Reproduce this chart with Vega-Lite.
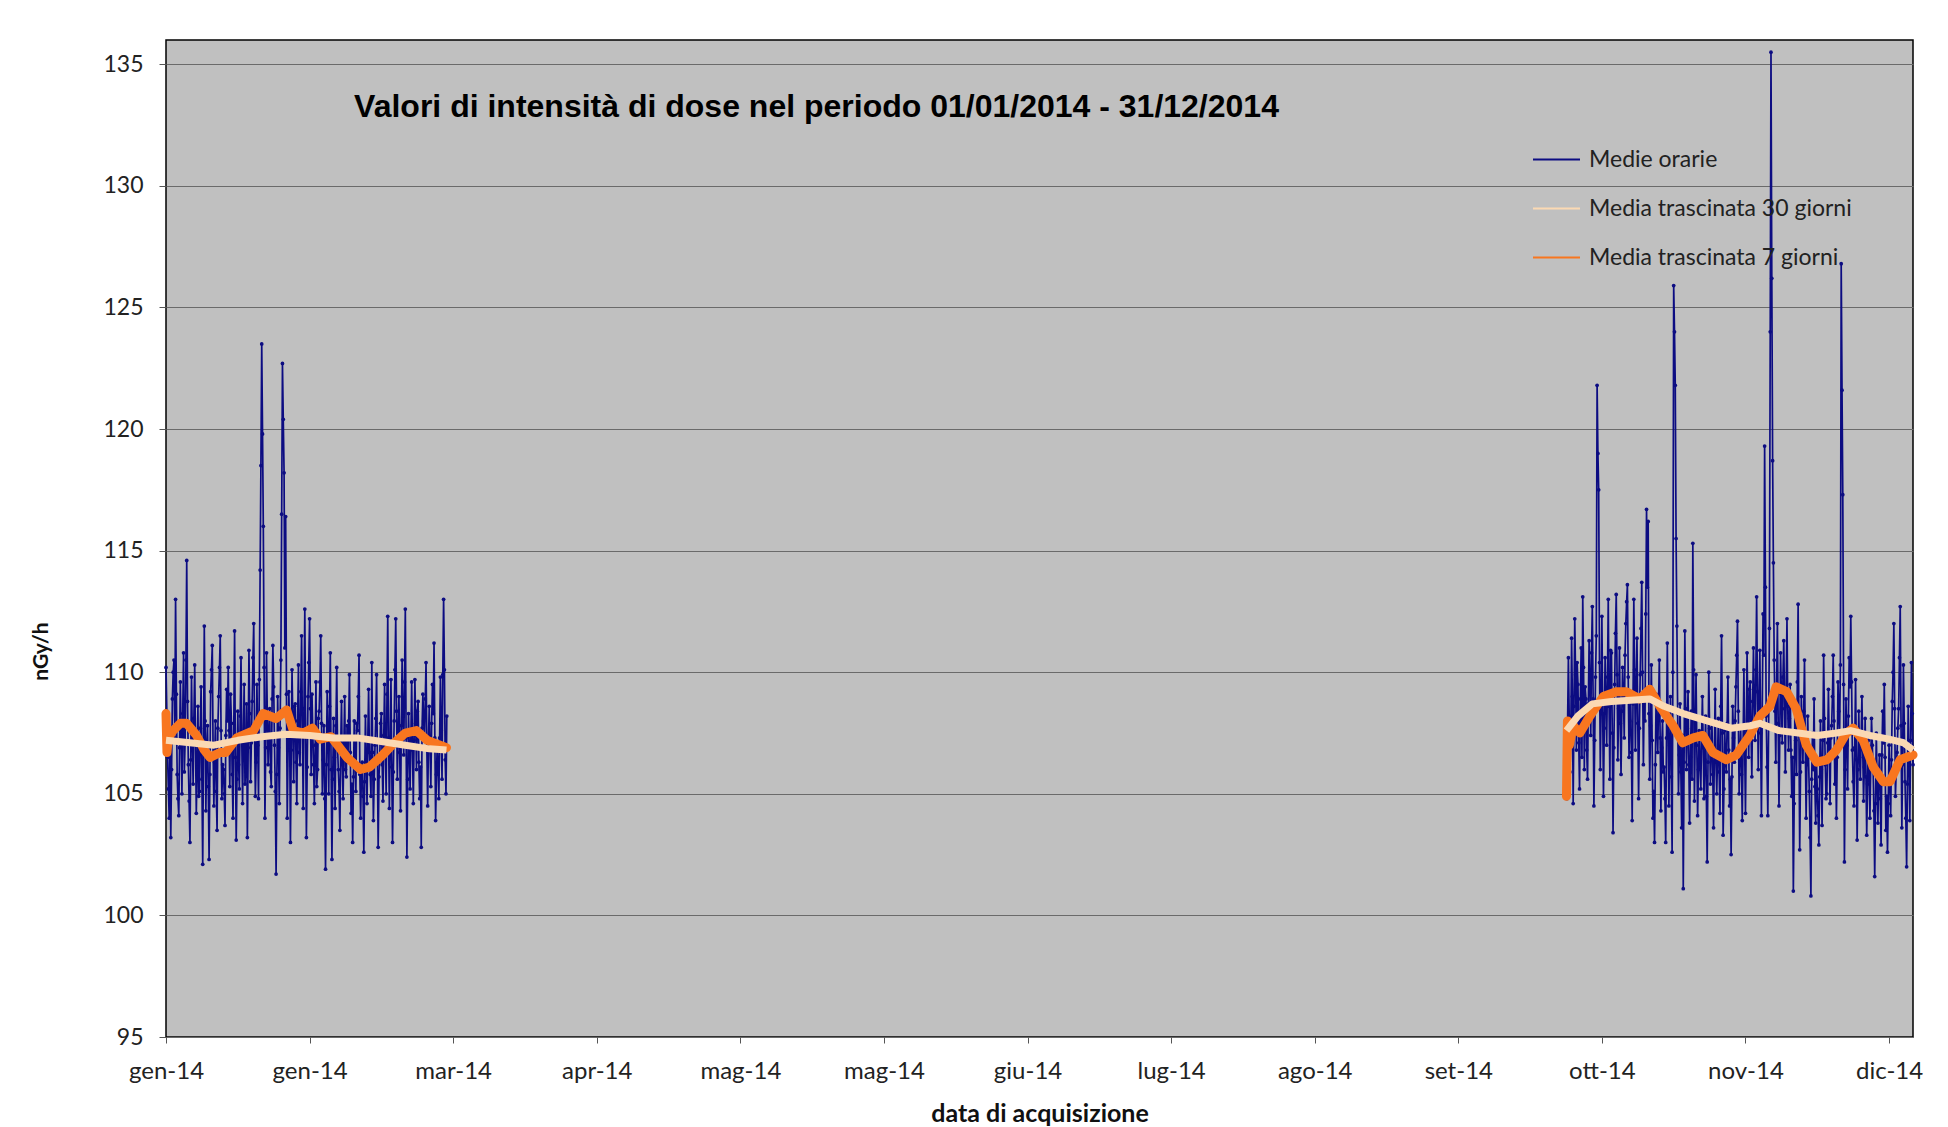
{
 "$schema": "https://vega.github.io/schema/vega-lite/v6.json",
 "width": 1747,
 "height": 997,
 "autosize": {"type": "none"},
 "padding": {"left": 166, "top": 40, "right": 35, "bottom": 90},
 "background": "white",
 "config": {
  "view": {"fill": "#C0C0C0", "stroke": "#000000", "strokeWidth": 1.5},
  "font": "Lato"
 },
 "datasets": {
  "orarie": [
   {"d":0,"v":110.2,"p":1},{"d":0.33,"v":106.5,"p":1},{"d":0.67,"v":104.0,"p":1},
   {"d":1,"v":103.2,"p":1},{"d":1.33,"v":108.9,"p":1},{"d":1.67,"v":110.5,"p":1},
   {"d":2,"v":113.0,"p":1},{"d":2.33,"v":105.8,"p":1},{"d":2.67,"v":104.1,"p":1},
   {"d":3,"v":109.6,"p":1},{"d":3.33,"v":105.0,"p":1},{"d":3.67,"v":110.8,"p":1},
   {"d":4,"v":107.2,"p":1},{"d":4.33,"v":114.6,"p":1},{"d":4.67,"v":106.2,"p":1},
   {"d":5,"v":103.0,"p":1},{"d":5.33,"v":109.8,"p":1},{"d":5.67,"v":105.4,"p":1},
   {"d":6,"v":110.3,"p":1},{"d":6.33,"v":104.2,"p":1},{"d":6.67,"v":108.6,"p":1},
   {"d":7,"v":105.1,"p":1},{"d":7.33,"v":109.4,"p":1},{"d":7.67,"v":102.1,"p":1},
   {"d":8,"v":111.9,"p":1},{"d":8.33,"v":104.3,"p":1},{"d":8.67,"v":107.8,"p":1},
   {"d":9,"v":102.3,"p":1},{"d":9.33,"v":109.2,"p":1},{"d":9.67,"v":111.1,"p":1},
   {"d":10,"v":104.5,"p":1},{"d":10.33,"v":108.0,"p":1},{"d":10.67,"v":103.5,"p":1},
   {"d":11,"v":109.0,"p":1},{"d":11.33,"v":111.5,"p":1},{"d":11.67,"v":104.8,"p":1},
   {"d":12,"v":106.0,"p":1},{"d":12.33,"v":103.7,"p":1},{"d":12.67,"v":109.3,"p":1},
   {"d":13,"v":110.2,"p":1},{"d":13.33,"v":105.3,"p":1},{"d":13.67,"v":107.9,"p":1},
   {"d":14,"v":104.0,"p":1},{"d":14.33,"v":111.7,"p":1},{"d":14.67,"v":103.1,"p":1},
   {"d":15,"v":108.4,"p":1},{"d":15.33,"v":105.2,"p":1},{"d":15.67,"v":110.6,"p":1},
   {"d":16,"v":104.6,"p":1},{"d":16.33,"v":109.5,"p":1},{"d":16.67,"v":106.1,"p":1},
   {"d":17,"v":103.2,"p":1},{"d":17.33,"v":110.9,"p":1},{"d":17.67,"v":105.5,"p":1},
   {"d":18,"v":108.8,"p":1},{"d":18.33,"v":112.0,"p":1},{"d":18.67,"v":104.9,"p":1},
   {"d":19,"v":109.5,"p":1},{"d":19.33,"v":104.8,"p":1},{"d":19.67,"v":114.2,"p":1},
   {"d":20,"v":123.5,"p":1},{"d":20.33,"v":116.0,"p":1},{"d":20.67,"v":104.0,"p":1},
   {"d":21,"v":110.8,"p":1},{"d":21.33,"v":106.2,"p":1},{"d":21.67,"v":108.5,"p":1},
   {"d":22,"v":105.3,"p":1},{"d":22.33,"v":111.1,"p":1},{"d":22.67,"v":107.0,"p":1},
   {"d":23,"v":101.7,"p":1},{"d":23.33,"v":109.0,"p":1},{"d":23.67,"v":104.6,"p":1},
   {"d":24,"v":110.5,"p":1},{"d":24.33,"v":122.7,"p":1},{"d":24.67,"v":118.2,"p":1},
   {"d":25,"v":116.4,"p":1},{"d":25.33,"v":104.0,"p":1},{"d":25.67,"v":109.2,"p":1},
   {"d":26,"v":103.0,"p":1},{"d":26.33,"v":110.1,"p":1},{"d":26.67,"v":105.5,"p":1},
   {"d":27,"v":108.7,"p":1},{"d":27.33,"v":104.6,"p":1},{"d":27.67,"v":110.3,"p":1},
   {"d":28,"v":106.2,"p":1},{"d":28.33,"v":111.5,"p":1},{"d":28.67,"v":104.4,"p":1},
   {"d":29,"v":112.6,"p":1},{"d":29.33,"v":103.2,"p":1},{"d":29.67,"v":109.0,"p":1},
   {"d":30,"v":112.2,"p":1},{"d":30.33,"v":105.8,"p":1},{"d":30.67,"v":107.5,"p":1},
   {"d":31,"v":104.6,"p":1},{"d":31.33,"v":109.6,"p":1},{"d":31.67,"v":106.0,"p":1},
   {"d":32,"v":108.4,"p":1},{"d":32.33,"v":111.5,"p":1},{"d":32.67,"v":105.0,"p":1},
   {"d":33,"v":107.8,"p":1},{"d":33.33,"v":101.9,"p":1},{"d":33.67,"v":109.2,"p":1},
   {"d":34,"v":105.0,"p":1},{"d":34.33,"v":110.8,"p":1},{"d":34.67,"v":102.3,"p":1},
   {"d":35,"v":108.1,"p":1},{"d":35.33,"v":104.4,"p":1},{"d":35.67,"v":110.2,"p":1},
   {"d":36,"v":106.0,"p":1},{"d":36.33,"v":103.5,"p":1},{"d":36.67,"v":108.8,"p":1},
   {"d":37,"v":104.8,"p":1},{"d":37.33,"v":109.0,"p":1},{"d":37.67,"v":105.7,"p":1},
   {"d":38,"v":106.3,"p":1},{"d":38.33,"v":109.9,"p":1},{"d":38.67,"v":104.2,"p":1},
   {"d":39,"v":103.0,"p":1},{"d":39.33,"v":108.0,"p":1},{"d":39.67,"v":105.1,"p":1},
   {"d":40,"v":107.6,"p":1},{"d":40.33,"v":110.7,"p":1},{"d":40.67,"v":104.0,"p":1},
   {"d":41,"v":106.3,"p":1},{"d":41.33,"v":102.6,"p":1},{"d":41.67,"v":108.2,"p":1},
   {"d":42,"v":104.6,"p":1},{"d":42.33,"v":109.3,"p":1},{"d":42.67,"v":105.8,"p":1},
   {"d":43,"v":110.4,"p":1},{"d":43.33,"v":103.9,"p":1},{"d":43.67,"v":107.0,"p":1},
   {"d":44,"v":109.9,"p":1},{"d":44.33,"v":102.8,"p":1},{"d":44.67,"v":106.6,"p":1},
   {"d":45,"v":108.3,"p":1},{"d":45.33,"v":104.7,"p":1},{"d":45.67,"v":109.5,"p":1},
   {"d":46,"v":105.0,"p":1},{"d":46.33,"v":112.3,"p":1},{"d":46.67,"v":104.4,"p":1},
   {"d":47,"v":109.7,"p":1},{"d":47.33,"v":103.0,"p":1},{"d":47.67,"v":108.0,"p":1},
   {"d":48,"v":112.2,"p":1},{"d":48.33,"v":105.6,"p":1},{"d":48.67,"v":109.0,"p":1},
   {"d":49,"v":104.3,"p":1},{"d":49.33,"v":110.5,"p":1},{"d":49.67,"v":106.6,"p":1},
   {"d":50,"v":112.6,"p":1},{"d":50.33,"v":102.4,"p":1},{"d":50.67,"v":108.3,"p":1},
   {"d":51,"v":105.2,"p":1},{"d":51.33,"v":109.6,"p":1},{"d":51.67,"v":104.6,"p":1},
   {"d":52,"v":109.7,"p":1},{"d":52.33,"v":106.0,"p":1},{"d":52.67,"v":108.8,"p":1},
   {"d":53,"v":104.8,"p":1},{"d":53.33,"v":102.8,"p":1},{"d":53.67,"v":109.1,"p":1},
   {"d":54,"v":107.3,"p":1},{"d":54.33,"v":110.4,"p":1},{"d":54.67,"v":104.5,"p":1},
   {"d":55,"v":108.6,"p":1},{"d":55.33,"v":105.3,"p":1},{"d":55.67,"v":109.5,"p":1},
   {"d":56,"v":111.2,"p":1},{"d":56.33,"v":103.9,"p":1},{"d":56.67,"v":107.0,"p":1},
   {"d":57,"v":104.8,"p":1},{"d":57.33,"v":109.8,"p":1},{"d":57.67,"v":105.6,"p":1},
   {"d":58,"v":113.0,"p":1},{"d":58.33,"v":106.4,"p":1},{"d":58.67,"v":108.2,"p":1},

   {"d":0.17,"v":108.4,"p":1},{"d":0.5,"v":105.2,"p":1},{"d":0.83,"v":107.6,"p":1},
   {"d":1.17,"v":106.0,"p":1},{"d":1.5,"v":110.0,"p":1},{"d":1.83,"v":107.3,"p":1},
   {"d":2.17,"v":109.1,"p":1},{"d":2.5,"v":104.8,"p":1},{"d":2.83,"v":106.9,"p":1},
   {"d":3.17,"v":107.4,"p":1},{"d":3.5,"v":108.3,"p":1},{"d":3.83,"v":105.9,"p":1},
   {"d":4.17,"v":110.5,"p":1},{"d":4.5,"v":108.8,"p":1},{"d":4.83,"v":104.7,"p":1},
   {"d":5.17,"v":106.4,"p":1},{"d":5.5,"v":107.2,"p":1},{"d":5.83,"v":108.1,"p":1},
   {"d":6.17,"v":107.0,"p":1},{"d":6.5,"v":106.1,"p":1},{"d":6.83,"v":104.9,"p":1},
   {"d":7.17,"v":107.7,"p":1},{"d":7.5,"v":105.6,"p":1},{"d":7.83,"v":106.8,"p":1},
   {"d":8.17,"v":108.0,"p":1},{"d":8.5,"v":106.9,"p":1},{"d":8.83,"v":105.3,"p":1},
   {"d":9.17,"v":105.8,"p":1},{"d":9.5,"v":110.1,"p":1},{"d":9.83,"v":107.0,"p":1},
   {"d":10.17,"v":106.3,"p":1},{"d":10.5,"v":105.1,"p":1},{"d":10.83,"v":107.7,"p":1},
   {"d":11.17,"v":110.2,"p":1},{"d":11.5,"v":107.6,"p":1},{"d":11.83,"v":106.2,"p":1},
   {"d":12.17,"v":105.0,"p":1},{"d":12.5,"v":107.4,"p":1},{"d":12.83,"v":108.0,"p":1},
   {"d":13.17,"v":107.6,"p":1},{"d":13.5,"v":109.1,"p":1},{"d":13.83,"v":105.8,"p":1},
   {"d":14.17,"v":107.9,"p":1},{"d":14.5,"v":106.5,"p":1},{"d":14.83,"v":105.6,"p":1},
   {"d":15.17,"v":106.2,"p":1},{"d":15.5,"v":108.2,"p":1},{"d":15.83,"v":107.3,"p":1},
   {"d":16.17,"v":107.5,"p":1},{"d":16.5,"v":105.4,"p":1},{"d":16.83,"v":108.7,"p":1},
   {"d":17.17,"v":106.9,"p":1},{"d":17.5,"v":108.3,"p":1},{"d":17.83,"v":107.1,"p":1},
   {"d":18.17,"v":110.6,"p":1},{"d":18.5,"v":107.7,"p":1},{"d":18.83,"v":106.3,"p":1},
   {"d":19.17,"v":107.0,"p":1},{"d":19.5,"v":109.7,"p":1},{"d":19.83,"v":118.5,"p":1},
   {"d":20.17,"v":119.8,"p":1},{"d":20.5,"v":110.2,"p":1},{"d":20.83,"v":106.9,"p":1},
   {"d":21.17,"v":108.2,"p":1},{"d":21.5,"v":107.5,"p":1},{"d":21.83,"v":105.9,"p":1},
   {"d":22.17,"v":108.9,"p":1},{"d":22.5,"v":109.4,"p":1},{"d":22.83,"v":105.1,"p":1},
   {"d":23.17,"v":105.8,"p":1},{"d":23.5,"v":106.9,"p":1},{"d":23.83,"v":107.7,"p":1},
   {"d":24.17,"v":116.5,"p":1},{"d":24.5,"v":120.4,"p":1},{"d":24.83,"v":111.0,"p":1},
   {"d":25.17,"v":109.1,"p":1},{"d":25.5,"v":106.8,"p":1},{"d":25.83,"v":107.5,"p":1},
   {"d":26.17,"v":106.8,"p":1},{"d":26.5,"v":107.9,"p":1},{"d":26.83,"v":108.6,"p":1},
   {"d":27.17,"v":106.3,"p":1},{"d":27.5,"v":108.0,"p":1},{"d":27.83,"v":106.7,"p":1},
   {"d":28.17,"v":109.2,"p":1},{"d":28.5,"v":107.6,"p":1},{"d":28.83,"v":108.5,"p":1},
   {"d":29.17,"v":107.7,"p":1},{"d":29.5,"v":106.1,"p":1},{"d":29.83,"v":110.4,"p":1},
   {"d":30.17,"v":108.5,"p":1},{"d":30.5,"v":109.1,"p":1},{"d":30.83,"v":106.2,"p":1},
   {"d":31.17,"v":107.0,"p":1},{"d":31.5,"v":105.3,"p":1},{"d":31.83,"v":108.1,"p":1},
   {"d":32.17,"v":109.6,"p":1},{"d":32.5,"v":107.9,"p":1},{"d":32.83,"v":106.4,"p":1},
   {"d":33.17,"v":104.8,"p":1},{"d":33.5,"v":106.2,"p":1},{"d":33.83,"v":107.5,"p":1},
   {"d":34.17,"v":108.6,"p":1},{"d":34.5,"v":106.0,"p":1},{"d":34.83,"v":105.6,"p":1},
   {"d":35.17,"v":106.5,"p":1},{"d":35.5,"v":107.8,"p":1},{"d":35.83,"v":107.0,"p":1},
   {"d":36.17,"v":105.1,"p":1},{"d":36.5,"v":106.9,"p":1},{"d":36.83,"v":106.2,"p":1},
   {"d":37.17,"v":107.1,"p":1},{"d":37.5,"v":106.0,"p":1},{"d":37.83,"v":107.8,"p":1},
   {"d":38.17,"v":108.0,"p":1},{"d":38.5,"v":106.7,"p":1},{"d":38.83,"v":105.4,"p":1},
   {"d":39.17,"v":105.7,"p":1},{"d":39.5,"v":106.4,"p":1},{"d":39.83,"v":107.9,"p":1},
   {"d":40.17,"v":109.0,"p":1},{"d":40.5,"v":105.8,"p":1},{"d":40.83,"v":105.9,"p":1},
   {"d":41.17,"v":104.9,"p":1},{"d":41.5,"v":105.5,"p":1},{"d":41.83,"v":106.4,"p":1},
   {"d":42.17,"v":107.3,"p":1},{"d":42.5,"v":106.7,"p":1},{"d":42.83,"v":104.9,"p":1},
   {"d":43.17,"v":106.7,"p":1},{"d":43.5,"v":105.6,"p":1},{"d":43.83,"v":108.1,"p":1},
   {"d":44.17,"v":106.4,"p":1},{"d":44.5,"v":105.7,"p":1},{"d":44.83,"v":107.9,"p":1},
   {"d":45.17,"v":106.2,"p":1},{"d":45.5,"v":107.4,"p":1},{"d":45.83,"v":106.8,"p":1},
   {"d":46.17,"v":109.1,"p":1},{"d":46.5,"v":107.3,"p":1},{"d":46.83,"v":106.9,"p":1},
   {"d":47.17,"v":106.1,"p":1},{"d":47.5,"v":105.9,"p":1},{"d":47.83,"v":110.1,"p":1},
   {"d":48.17,"v":108.4,"p":1},{"d":48.5,"v":107.5,"p":1},{"d":48.83,"v":106.7,"p":1},
   {"d":49.17,"v":107.8,"p":1},{"d":49.5,"v":108.2,"p":1},{"d":49.83,"v":109.6,"p":1},
   {"d":50.17,"v":107.3,"p":1},{"d":50.5,"v":105.6,"p":1},{"d":50.83,"v":106.9,"p":1},
   {"d":51.17,"v":107.4,"p":1},{"d":51.5,"v":106.8,"p":1},{"d":51.83,"v":107.2,"p":1},
   {"d":52.17,"v":107.9,"p":1},{"d":52.5,"v":108.4,"p":1},{"d":52.83,"v":106.3,"p":1},
   {"d":53.17,"v":106.1,"p":1},{"d":53.5,"v":107.7,"p":1},{"d":53.83,"v":108.0,"p":1},
   {"d":54.17,"v":108.9,"p":1},{"d":54.5,"v":106.9,"p":1},{"d":54.83,"v":107.1,"p":1},
   {"d":55.17,"v":106.8,"p":1},{"d":55.5,"v":107.9,"p":1},{"d":55.83,"v":108.3,"p":1},
   {"d":56.17,"v":107.3,"p":1},{"d":56.5,"v":105.8,"p":1},{"d":56.83,"v":106.2,"p":1},
   {"d":57.17,"v":107.3,"p":1},{"d":57.5,"v":107.6,"p":1},{"d":57.83,"v":109.9,"p":1},
   {"d":58.17,"v":110.1,"p":1},{"d":58.5,"v":105.0,"p":1},

   {"d":292.67,"v":104.8,"p":2},
   {"d":293,"v":110.6,"p":2},{"d":293.33,"v":105.9,"p":2},{"d":293.67,"v":111.4,"p":2},
   {"d":294,"v":104.6,"p":2},{"d":294.33,"v":112.2,"p":2},{"d":294.67,"v":106.8,"p":2},
   {"d":295,"v":109.5,"p":2},{"d":295.33,"v":105.2,"p":2},{"d":295.67,"v":111.0,"p":2},
   {"d":296,"v":113.1,"p":2},{"d":296.33,"v":106.0,"p":2},{"d":296.67,"v":108.9,"p":2},
   {"d":297,"v":105.6,"p":2},{"d":297.33,"v":111.3,"p":2},{"d":297.67,"v":107.4,"p":2},
   {"d":298,"v":112.7,"p":2},{"d":298.33,"v":104.5,"p":2},{"d":298.67,"v":109.8,"p":2},
   {"d":299,"v":121.8,"p":2},{"d":299.33,"v":117.5,"p":2},{"d":299.67,"v":106.0,"p":2},
   {"d":300,"v":112.3,"p":2},{"d":300.33,"v":104.9,"p":2},{"d":300.67,"v":110.6,"p":2},
   {"d":301,"v":107.0,"p":2},{"d":301.33,"v":113.0,"p":2},{"d":301.67,"v":105.6,"p":2},
   {"d":302,"v":110.8,"p":2},{"d":302.33,"v":103.4,"p":2},{"d":302.67,"v":109.5,"p":2},
   {"d":303,"v":113.2,"p":2},{"d":303.33,"v":106.4,"p":2},{"d":303.67,"v":111.0,"p":2},
   {"d":304,"v":105.8,"p":2},{"d":304.33,"v":110.2,"p":2},{"d":304.67,"v":107.3,"p":2},
   {"d":305,"v":112.0,"p":2},{"d":305.33,"v":113.6,"p":2},{"d":305.67,"v":106.5,"p":2},
   {"d":306,"v":109.2,"p":2},{"d":306.33,"v":103.9,"p":2},{"d":306.67,"v":113.0,"p":2},
   {"d":307,"v":106.8,"p":2},{"d":307.33,"v":111.4,"p":2},{"d":307.67,"v":104.8,"p":2},
   {"d":308,"v":109.9,"p":2},{"d":308.33,"v":113.7,"p":2},{"d":308.67,"v":106.2,"p":2},
   {"d":309,"v":108.0,"p":2},{"d":309.33,"v":116.7,"p":2},{"d":309.67,"v":116.2,"p":2},
   {"d":310,"v":105.6,"p":2},{"d":310.33,"v":110.3,"p":2},{"d":310.67,"v":104.0,"p":2},
   {"d":311,"v":103.0,"p":2},{"d":311.33,"v":109.1,"p":2},{"d":311.67,"v":106.7,"p":2},
   {"d":312,"v":110.5,"p":2},{"d":312.33,"v":104.3,"p":2},{"d":312.67,"v":108.0,"p":2},
   {"d":313,"v":106.1,"p":2},{"d":313.33,"v":103.0,"p":2},{"d":313.67,"v":111.2,"p":2},
   {"d":314,"v":104.5,"p":2},{"d":314.33,"v":109.0,"p":2},{"d":314.67,"v":102.6,"p":2},
   {"d":315,"v":125.9,"p":2},{"d":315.33,"v":121.8,"p":2},{"d":315.67,"v":111.9,"p":2},
   {"d":316,"v":105.0,"p":2},{"d":316.33,"v":108.7,"p":2},{"d":316.67,"v":103.6,"p":2},
   {"d":317,"v":101.1,"p":2},{"d":317.33,"v":111.7,"p":2},{"d":317.67,"v":106.0,"p":2},
   {"d":318,"v":109.2,"p":2},{"d":318.33,"v":103.8,"p":2},{"d":318.67,"v":108.4,"p":2},
   {"d":319,"v":115.3,"p":2},{"d":319.33,"v":104.7,"p":2},{"d":319.67,"v":109.9,"p":2},
   {"d":320,"v":104.1,"p":2},{"d":320.33,"v":107.6,"p":2},{"d":320.67,"v":105.2,"p":2},
   {"d":321,"v":109.0,"p":2},{"d":321.33,"v":104.8,"p":2},{"d":321.67,"v":108.2,"p":2},
   {"d":322,"v":102.2,"p":2},{"d":322.33,"v":110.0,"p":2},{"d":322.67,"v":105.4,"p":2},
   {"d":323,"v":107.9,"p":2},{"d":323.33,"v":103.6,"p":2},{"d":323.67,"v":109.3,"p":2},
   {"d":324,"v":105.0,"p":2},{"d":324.33,"v":108.1,"p":2},{"d":324.67,"v":104.2,"p":2},
   {"d":325,"v":111.5,"p":2},{"d":325.33,"v":103.3,"p":2},{"d":325.67,"v":107.6,"p":2},
   {"d":326,"v":105.9,"p":2},{"d":326.33,"v":109.8,"p":2},{"d":326.67,"v":104.5,"p":2},
   {"d":327,"v":102.5,"p":2},{"d":327.33,"v":108.6,"p":2},{"d":327.67,"v":106.3,"p":2},
   {"d":328,"v":109.4,"p":2},{"d":328.33,"v":112.1,"p":2},{"d":328.67,"v":105.0,"p":2},
   {"d":329,"v":107.7,"p":2},{"d":329.33,"v":103.9,"p":2},{"d":329.67,"v":110.1,"p":2},
   {"d":330,"v":104.2,"p":2},{"d":330.33,"v":110.8,"p":2},{"d":330.67,"v":106.5,"p":2},
   {"d":331,"v":109.6,"p":2},{"d":331.33,"v":105.7,"p":2},{"d":331.67,"v":111.0,"p":2},
   {"d":332,"v":107.2,"p":2},{"d":332.33,"v":113.1,"p":2},{"d":332.67,"v":106.0,"p":2},
   {"d":333,"v":110.9,"p":2},{"d":333.33,"v":104.1,"p":2},{"d":333.67,"v":112.4,"p":2},
   {"d":334,"v":119.3,"p":2},{"d":334.33,"v":108.2,"p":2},{"d":334.67,"v":104.1,"p":2},
   {"d":335,"v":111.8,"p":2},{"d":335.33,"v":135.5,"p":2},{"d":335.67,"v":118.7,"p":2},
   {"d":336,"v":110.5,"p":2},{"d":336.33,"v":106.3,"p":2},{"d":336.67,"v":112.0,"p":2},
   {"d":337,"v":104.5,"p":2},{"d":337.33,"v":110.8,"p":2},{"d":337.67,"v":107.1,"p":2},
   {"d":338,"v":111.3,"p":2},{"d":338.33,"v":105.9,"p":2},{"d":338.67,"v":112.2,"p":2},
   {"d":339,"v":106.8,"p":2},{"d":339.33,"v":109.5,"p":2},{"d":339.67,"v":104.9,"p":2},
   {"d":340,"v":101.0,"p":2},{"d":340.33,"v":108.7,"p":2},{"d":340.67,"v":105.8,"p":2},
   {"d":341,"v":112.8,"p":2},{"d":341.33,"v":102.7,"p":2},{"d":341.67,"v":109.0,"p":2},
   {"d":342,"v":106.3,"p":2},{"d":342.33,"v":110.5,"p":2},{"d":342.67,"v":104.0,"p":2},
   {"d":343,"v":108.2,"p":2},{"d":343.33,"v":105.1,"p":2},{"d":343.67,"v":100.8,"p":2},
   {"d":344,"v":107.5,"p":2},{"d":344.33,"v":108.9,"p":2},{"d":344.67,"v":103.8,"p":2},
   {"d":345,"v":105.2,"p":2},{"d":345.33,"v":102.9,"p":2},{"d":345.67,"v":108.0,"p":2},
   {"d":346,"v":103.7,"p":2},{"d":346.33,"v":110.7,"p":2},{"d":346.67,"v":106.2,"p":2},
   {"d":347,"v":105.0,"p":2},{"d":347.33,"v":109.3,"p":2},{"d":347.67,"v":104.6,"p":2},
   {"d":348,"v":107.8,"p":2},{"d":348.33,"v":110.7,"p":2},{"d":348.67,"v":105.4,"p":2},
   {"d":349,"v":104.0,"p":2},{"d":349.33,"v":109.6,"p":2},{"d":349.67,"v":107.5,"p":2},
   {"d":350,"v":126.8,"p":2},{"d":350.33,"v":117.3,"p":2},{"d":350.67,"v":102.2,"p":2},
   {"d":351,"v":108.9,"p":2},{"d":351.33,"v":105.2,"p":2},{"d":351.67,"v":110.6,"p":2},
   {"d":352,"v":112.3,"p":2},{"d":352.33,"v":106.8,"p":2},{"d":352.67,"v":104.5,"p":2},
   {"d":353,"v":109.7,"p":2},{"d":353.33,"v":103.1,"p":2},{"d":353.67,"v":108.4,"p":2},
   {"d":354,"v":105.6,"p":2},{"d":354.33,"v":109.0,"p":2},{"d":354.67,"v":104.7,"p":2},
   {"d":355,"v":108.1,"p":2},{"d":355.33,"v":103.3,"p":2},{"d":355.67,"v":107.2,"p":2},
   {"d":356,"v":104.0,"p":2},{"d":356.33,"v":108.1,"p":2},{"d":356.67,"v":106.0,"p":2},
   {"d":357,"v":101.6,"p":2},{"d":357.33,"v":107.5,"p":2},{"d":357.67,"v":103.8,"p":2},
   {"d":358,"v":106.6,"p":2},{"d":358.33,"v":102.9,"p":2},{"d":358.67,"v":108.4,"p":2},
   {"d":359,"v":109.5,"p":2},{"d":359.33,"v":103.5,"p":2},{"d":359.67,"v":102.6,"p":2},
   {"d":360,"v":107.0,"p":2},{"d":360.33,"v":104.1,"p":2},{"d":360.67,"v":108.8,"p":2},
   {"d":361,"v":112.0,"p":2},{"d":361.33,"v":104.9,"p":2},{"d":361.67,"v":106.7,"p":2},
   {"d":362,"v":108.5,"p":2},{"d":362.33,"v":112.7,"p":2},{"d":362.67,"v":103.6,"p":2},
   {"d":363,"v":110.3,"p":2},{"d":363.33,"v":105.5,"p":2},{"d":363.67,"v":102.0,"p":2},
   {"d":364,"v":108.6,"p":2},{"d":364.33,"v":103.9,"p":2},{"d":364.67,"v":110.4,"p":2},
   {"d":365,"v":106.2,"p":2},

   {"d":292.83,"v":107.9,"p":2},
   {"d":293.17,"v":108.2,"p":2},{"d":293.5,"v":107.3,"p":2},{"d":293.83,"v":109.0,"p":2},
   {"d":294.17,"v":108.6,"p":2},{"d":294.5,"v":109.9,"p":2},{"d":294.83,"v":110.4,"p":2},
   {"d":295.17,"v":107.1,"p":2},{"d":295.5,"v":108.9,"p":2},{"d":295.83,"v":106.5,"p":2},
   {"d":296.17,"v":110.2,"p":2},{"d":296.5,"v":109.4,"p":2},{"d":296.83,"v":106.8,"p":2},
   {"d":297.17,"v":108.7,"p":2},{"d":297.5,"v":109.6,"p":2},{"d":297.83,"v":110.8,"p":2},
   {"d":298.17,"v":108.9,"p":2},{"d":298.5,"v":107.2,"p":2},{"d":298.83,"v":111.5,"p":2},
   {"d":299.17,"v":119.0,"p":2},{"d":299.5,"v":110.4,"p":2},{"d":299.83,"v":108.5,"p":2},
   {"d":300.17,"v":108.3,"p":2},{"d":300.5,"v":107.7,"p":2},{"d":300.83,"v":109.0,"p":2},
   {"d":301.17,"v":109.8,"p":2},{"d":301.5,"v":108.6,"p":2},{"d":301.83,"v":110.9,"p":2},
   {"d":302.17,"v":107.5,"p":2},{"d":302.5,"v":106.9,"p":2},{"d":302.83,"v":111.6,"p":2},
   {"d":303.17,"v":109.9,"p":2},{"d":303.5,"v":108.5,"p":2},{"d":303.83,"v":107.9,"p":2},
   {"d":304.17,"v":108.4,"p":2},{"d":304.5,"v":109.0,"p":2},{"d":304.83,"v":110.7,"p":2},
   {"d":305.17,"v":112.9,"p":2},{"d":305.5,"v":109.8,"p":2},{"d":305.83,"v":108.0,"p":2},
   {"d":306.17,"v":106.7,"p":2},{"d":306.5,"v":108.7,"p":2},{"d":306.83,"v":110.1,"p":2},
   {"d":307.17,"v":109.4,"p":2},{"d":307.5,"v":107.9,"p":2},{"d":307.83,"v":107.7,"p":2},
   {"d":308.17,"v":111.8,"p":2},{"d":308.5,"v":110.0,"p":2},{"d":308.83,"v":108.9,"p":2},
   {"d":309.17,"v":112.4,"p":2},{"d":309.5,"v":113.5,"p":2},{"d":309.83,"v":108.3,"p":2},
   {"d":310.17,"v":107.8,"p":2},{"d":310.5,"v":107.2,"p":2},{"d":310.83,"v":105.1,"p":2},
   {"d":311.17,"v":106.2,"p":2},{"d":311.5,"v":107.9,"p":2},{"d":311.83,"v":108.6,"p":2},
   {"d":312.17,"v":107.3,"p":2},{"d":312.5,"v":106.9,"p":2},{"d":312.83,"v":105.9,"p":2},
   {"d":313.17,"v":104.8,"p":2},{"d":313.5,"v":107.3,"p":2},{"d":313.83,"v":107.9,"p":2},
   {"d":314.17,"v":107.0,"p":2},{"d":314.5,"v":105.7,"p":2},{"d":314.83,"v":110.0,"p":2},
   {"d":315.17,"v":124.0,"p":2},{"d":315.5,"v":115.5,"p":2},{"d":315.83,"v":108.3,"p":2},
   {"d":316.17,"v":106.6,"p":2},{"d":316.5,"v":105.9,"p":2},{"d":316.83,"v":107.4,"p":2},
   {"d":317.17,"v":106.3,"p":2},{"d":317.5,"v":108.5,"p":2},{"d":317.83,"v":107.7,"p":2},
   {"d":318.17,"v":106.2,"p":2},{"d":318.5,"v":106.5,"p":2},{"d":318.83,"v":105.6,"p":2},
   {"d":319.17,"v":110.1,"p":2},{"d":319.5,"v":107.4,"p":2},{"d":319.83,"v":107.0,"p":2},
   {"d":320.17,"v":106.0,"p":2},{"d":320.5,"v":106.2,"p":2},{"d":320.83,"v":107.3,"p":2},
   {"d":321.17,"v":106.9,"p":2},{"d":321.5,"v":106.4,"p":2},{"d":321.83,"v":104.9,"p":2},
   {"d":322.17,"v":106.3,"p":2},{"d":322.5,"v":107.7,"p":2},{"d":322.83,"v":106.8,"p":2},
   {"d":323.17,"v":105.8,"p":2},{"d":323.5,"v":106.7,"p":2},{"d":323.83,"v":106.3,"p":2},
   {"d":324.17,"v":106.6,"p":2},{"d":324.5,"v":105.9,"p":2},{"d":324.83,"v":108.6,"p":2},
   {"d":325.17,"v":107.5,"p":2},{"d":325.5,"v":105.2,"p":2},{"d":325.83,"v":106.4,"p":2},
   {"d":326.17,"v":107.9,"p":2},{"d":326.5,"v":106.8,"p":2},{"d":326.83,"v":105.6,"p":2},
   {"d":327.17,"v":105.7,"p":2},{"d":327.5,"v":107.3,"p":2},{"d":327.83,"v":108.0,"p":2},
   {"d":328.17,"v":110.7,"p":2},{"d":328.5,"v":108.4,"p":2},{"d":328.83,"v":106.6,"p":2},
   {"d":329.17,"v":105.8,"p":2},{"d":329.5,"v":107.0,"p":2},{"d":329.83,"v":106.9,"p":2},
   {"d":330.17,"v":107.7,"p":2},{"d":330.5,"v":108.4,"p":2},{"d":330.83,"v":109.3,"p":2},
   {"d":331.17,"v":107.4,"p":2},{"d":331.5,"v":108.8,"p":2},{"d":331.83,"v":108.7,"p":2},
   {"d":332.17,"v":110.1,"p":2},{"d":332.5,"v":109.2,"p":2},{"d":332.83,"v":108.8,"p":2},
   {"d":333.17,"v":107.5,"p":2},{"d":333.5,"v":108.3,"p":2},{"d":333.83,"v":110.7,"p":2},
   {"d":334.17,"v":113.5,"p":2},{"d":334.5,"v":106.1,"p":2},{"d":334.83,"v":107.7,"p":2},
   {"d":335.17,"v":124.0,"p":2},{"d":335.5,"v":126.2,"p":2},{"d":335.83,"v":114.5,"p":2},
   {"d":336.17,"v":108.4,"p":2},{"d":336.5,"v":109.4,"p":2},{"d":336.83,"v":107.9,"p":2},
   {"d":337.17,"v":107.4,"p":2},{"d":337.5,"v":109.1,"p":2},{"d":337.83,"v":109.8,"p":2},
   {"d":338.17,"v":108.5,"p":2},{"d":338.5,"v":109.3,"p":2},{"d":338.83,"v":108.6,"p":2},
   {"d":339.17,"v":108.1,"p":2},{"d":339.5,"v":106.8,"p":2},{"d":339.83,"v":106.5,"p":2},
   {"d":340.17,"v":104.6,"p":2},{"d":340.5,"v":107.2,"p":2},{"d":340.83,"v":109.6,"p":2},
   {"d":341.17,"v":107.5,"p":2},{"d":341.5,"v":105.9,"p":2},{"d":341.83,"v":107.7,"p":2},
   {"d":342.17,"v":108.4,"p":2},{"d":342.5,"v":107.0,"p":2},{"d":342.83,"v":106.2,"p":2},
   {"d":343.17,"v":106.5,"p":2},{"d":343.5,"v":103.2,"p":2},{"d":343.83,"v":105.6,"p":2},
   {"d":344.17,"v":106.0,"p":2},{"d":344.5,"v":105.3,"p":2},{"d":344.83,"v":106.4,"p":2},
   {"d":345.17,"v":104.1,"p":2},{"d":345.5,"v":105.7,"p":2},{"d":345.83,"v":106.0,"p":2},
   {"d":346.17,"v":107.2,"p":2},{"d":346.5,"v":108.1,"p":2},{"d":346.83,"v":104.8,"p":2},
   {"d":347.17,"v":107.1,"p":2},{"d":347.5,"v":106.9,"p":2},{"d":347.83,"v":107.3,"p":2},
   {"d":348.17,"v":109.0,"p":2},{"d":348.5,"v":108.0,"p":2},{"d":348.83,"v":106.8,"p":2},
   {"d":349.17,"v":106.5,"p":2},{"d":349.5,"v":108.4,"p":2},{"d":349.83,"v":110.3,"p":2},
   {"d":350.17,"v":121.6,"p":2},{"d":350.5,"v":109.5,"p":2},{"d":350.83,"v":106.0,"p":2},
   {"d":351.17,"v":107.0,"p":2},{"d":351.5,"v":108.2,"p":2},{"d":351.83,"v":109.4,"p":2},
   {"d":352.17,"v":109.6,"p":2},{"d":352.5,"v":105.5,"p":2},{"d":352.83,"v":106.9,"p":2},
   {"d":353.17,"v":106.4,"p":2},{"d":353.5,"v":106.0,"p":2},{"d":353.83,"v":106.5,"p":2},
   {"d":354.17,"v":107.3,"p":2},{"d":354.5,"v":106.8,"p":2},{"d":354.83,"v":106.1,"p":2},
   {"d":355.17,"v":105.7,"p":2},{"d":355.5,"v":105.4,"p":2},{"d":355.83,"v":105.9,"p":2},
   {"d":356.17,"v":106.1,"p":2},{"d":356.5,"v":107.0,"p":2},{"d":356.83,"v":104.3,"p":2},
   {"d":357.17,"v":104.6,"p":2},{"d":357.5,"v":105.5,"p":2},{"d":357.83,"v":105.9,"p":2},
   {"d":358.17,"v":104.8,"p":2},{"d":358.5,"v":106.6,"p":2},{"d":358.83,"v":107.1,"p":2},
   {"d":359.17,"v":106.5,"p":2},{"d":359.5,"v":104.9,"p":2},{"d":359.83,"v":104.6,"p":2},
   {"d":360.17,"v":105.5,"p":2},{"d":360.5,"v":106.4,"p":2},{"d":360.83,"v":110.0,"p":2},
   {"d":361.17,"v":108.5,"p":2},{"d":361.5,"v":106.0,"p":2},{"d":361.83,"v":107.7,"p":2},
   {"d":362.17,"v":110.6,"p":2},{"d":362.5,"v":107.8,"p":2},{"d":362.83,"v":106.2,"p":2},
   {"d":363.17,"v":107.9,"p":2},{"d":363.5,"v":104.0,"p":2},{"d":363.83,"v":105.4,"p":2},
   {"d":364.17,"v":106.2,"p":2},{"d":364.5,"v":107.2,"p":2},{"d":364.83,"v":108.3,"p":2}
  ],
  "m7": [
   {"d":0,"v":108.3,"p":1},{"d":0.2,"v":106.7,"p":1},{"d":0.5,"v":107.3,"p":1},{"d":1.5,"v":107.6,"p":1},
   {"d":3,"v":107.9,"p":1},{"d":4.3,"v":107.9,"p":1},{"d":6.4,"v":107.4,"p":1},{"d":8,"v":106.8,"p":1},
   {"d":9.2,"v":106.5,"p":1},{"d":11.3,"v":106.7,"p":1},{"d":12.5,"v":106.7,"p":1},{"d":14.8,"v":107.3,"p":1},
   {"d":18.3,"v":107.6,"p":1},{"d":20.3,"v":108.3,"p":1},{"d":23,"v":108.1,"p":1},{"d":25.2,"v":108.45,"p":1},
   {"d":26.6,"v":107.6,"p":1},{"d":28.7,"v":107.5,"p":1},{"d":30.6,"v":107.7,"p":1},{"d":32.2,"v":107.25,"p":1},
   {"d":34.5,"v":107.35,"p":1},{"d":37.8,"v":106.5,"p":1},{"d":40.6,"v":106.0,"p":1},{"d":42.5,"v":106.1,"p":1},
   {"d":45.3,"v":106.6,"p":1},{"d":47.2,"v":107.0,"p":1},{"d":50,"v":107.5,"p":1},{"d":52.3,"v":107.6,"p":1},
   {"d":54.6,"v":107.2,"p":1},{"d":58.6,"v":106.9,"p":1},
   {"d":292.6,"v":104.9,"p":2},{"d":292.8,"v":108.0,"p":2},{"d":293.2,"v":107.0,"p":2},{"d":294,"v":107.8,"p":2},
   {"d":295.4,"v":107.5,"p":2},{"d":297.5,"v":108.2,"p":2},{"d":300.3,"v":109.0,"p":2},{"d":303,"v":109.2,"p":2},
   {"d":305.1,"v":109.2,"p":2},{"d":307.9,"v":108.9,"p":2},{"d":310,"v":109.3,"p":2},{"d":312.1,"v":108.6,"p":2},
   {"d":314.9,"v":107.8,"p":2},{"d":316.9,"v":107.1,"p":2},{"d":319.1,"v":107.3,"p":2},{"d":321.1,"v":107.4,"p":2},
   {"d":323.2,"v":106.7,"p":2},{"d":326,"v":106.4,"p":2},{"d":328.1,"v":106.6,"p":2},{"d":330.9,"v":107.4,"p":2},
   {"d":333,"v":108.2,"p":2},{"d":335.1,"v":108.6,"p":2},{"d":336.4,"v":109.4,"p":2},{"d":338.6,"v":109.2,"p":2},
   {"d":340.6,"v":108.5,"p":2},{"d":342.7,"v":107.0,"p":2},{"d":344.9,"v":106.3,"p":2},{"d":347,"v":106.4,"p":2},
   {"d":349,"v":106.8,"p":2},{"d":351.1,"v":107.5,"p":2},{"d":352.5,"v":107.7,"p":2},{"d":354.6,"v":107.2,"p":2},
   {"d":356.7,"v":106.1,"p":2},{"d":358.8,"v":105.5,"p":2},{"d":360.2,"v":105.5,"p":2},{"d":362.3,"v":106.4,"p":2},
   {"d":365,"v":106.6,"p":2}
  ],
  "m30": [
   {"d":0,"v":107.2,"p":1},{"d":5,"v":107.1,"p":1},{"d":10,"v":107.0,"p":1},{"d":15,"v":107.2,"p":1},
   {"d":20,"v":107.35,"p":1},{"d":25,"v":107.45,"p":1},{"d":30,"v":107.4,"p":1},{"d":35,"v":107.3,"p":1},
   {"d":40,"v":107.3,"p":1},{"d":45,"v":107.15,"p":1},{"d":50,"v":107.0,"p":1},{"d":55,"v":106.85,"p":1},
   {"d":58.6,"v":106.8,"p":1},
   {"d":292.6,"v":107.6,"p":2},{"d":295,"v":108.2,"p":2},{"d":298,"v":108.7,"p":2},{"d":302,"v":108.8,"p":2},
   {"d":306,"v":108.85,"p":2},{"d":310,"v":108.9,"p":2},{"d":313,"v":108.6,"p":2},{"d":317,"v":108.3,"p":2},
   {"d":322,"v":108.0,"p":2},{"d":327,"v":107.7,"p":2},{"d":331,"v":107.8,"p":2},{"d":333,"v":107.9,"p":2},
   {"d":337,"v":107.6,"p":2},{"d":341,"v":107.5,"p":2},{"d":345,"v":107.4,"p":2},{"d":349,"v":107.5,"p":2},
   {"d":352,"v":107.6,"p":2},{"d":356,"v":107.4,"p":2},{"d":360,"v":107.25,"p":2},{"d":363,"v":107.1,"p":2},
   {"d":365,"v":106.8,"p":2}
  ]
 },
 "layer": [
  {
   "data": {"name": "orarie"},
   "mark": {"type": "line", "strokeWidth": 1.7, "point": {"filled": true, "size": 14}},
   "encoding": {
    "x": {
     "field": "d", "type": "quantitative",
     "scale": {"domain": [0, 365], "nice": false, "zero": false},
     "axis": {
      "values": [0,30,60,90,120,150,180,210,240,270,300,330,360],
      "labelExpr": "['gen-14','gen-14','mar-14','apr-14','mag-14','mag-14','giu-14','lug-14','ago-14','set-14','ott-14','nov-14','dic-14'][round(datum.value/30)]",
      "title": "data di acquisizione",
      "grid": false, "domain": false,
      "tickSize": 6, "tickColor": "#555555",
      "labelFont": "Lato", "labelFontSize": 24, "labelColor": "#222222",
      "labelPadding": 16, "labelFlush": false, "labelOverlap": false,
      "titleFont": "Lato", "titleFontSize": 25, "titleFontWeight": "bold", "titleColor": "#111111",
      "titleY": 76, "titleBaseline": "middle"
     }
    },
    "y": {
     "field": "v", "type": "quantitative",
     "scale": {"domain": [95, 136], "nice": false, "zero": false},
     "axis": {
      "values": [95,100,105,110,115,120,125,130,135],
      "title": "nGy/h",
      "grid": true, "gridColor": "#6A6A6A", "gridWidth": 1,
      "domain": false, "tickSize": 7, "tickColor": "#555555",
      "labelFont": "Lato", "labelFontSize": 23, "labelColor": "#222222", "labelPadding": 16,
      "titleFont": "Lato", "titleFontSize": 21, "titleFontWeight": "bold", "titleColor": "#111111",
      "titleX": -125, "titleY": 611, "titleBaseline": "middle"
     }
    },
    "color": {
     "datum": "Medie orarie", "type": "nominal",
     "scale": {
      "domain": ["Medie orarie", "Media trascinata 30 giorni", "Media trascinata 7 giorni"],
      "range": ["#0C0C82", "#FBD9B3", "#F8761F"]
     },
     "legend": {
      "orient": "none", "legendX": 1366, "legendY": 95, "title": null,
      "symbolType": "stroke", "symbolSize": 2209, "symbolStrokeWidth": 2,
      "labelFont": "Lato", "labelFontSize": 23, "labelColor": "#222222",
      "rowPadding": 12, "labelOffset": 8, "padding": 0, "labelLimit": 500
     }
    },
    "detail": {"field": "p", "type": "nominal"}
   }
  },
  {
   "data": {"name": "m7"},
   "mark": {"type": "line", "strokeWidth": 9, "strokeJoin": "round", "strokeCap": "round"},
   "encoding": {
    "x": {"field": "d", "type": "quantitative"},
    "y": {"field": "v", "type": "quantitative"},
    "color": {"datum": "Media trascinata 7 giorni", "type": "nominal"},
    "detail": {"field": "p", "type": "nominal"}
   }
  },
  {
   "data": {"name": "m30"},
   "mark": {"type": "line", "strokeWidth": 7, "strokeJoin": "round"},
   "encoding": {
    "x": {"field": "d", "type": "quantitative"},
    "y": {"field": "v", "type": "quantitative"},
    "color": {"datum": "Media trascinata 30 giorni", "type": "nominal"},
    "detail": {"field": "p", "type": "nominal"}
   }
  },
  {
   "data": {"values": [{}]},
   "mark": {"type": "text", "font": "Liberation Sans", "fontWeight": "bold", "fontSize": 32, "align": "left", "baseline": "alphabetic", "color": "#000000"},
   "encoding": {
    "x": {"datum": 39.3, "type": "quantitative"},
    "y": {"datum": 132.85, "type": "quantitative"},
    "text": {"value": "Valori di intensità di dose nel periodo 01/01/2014 - 31/12/2014"}
   }
  }
 ]
}
